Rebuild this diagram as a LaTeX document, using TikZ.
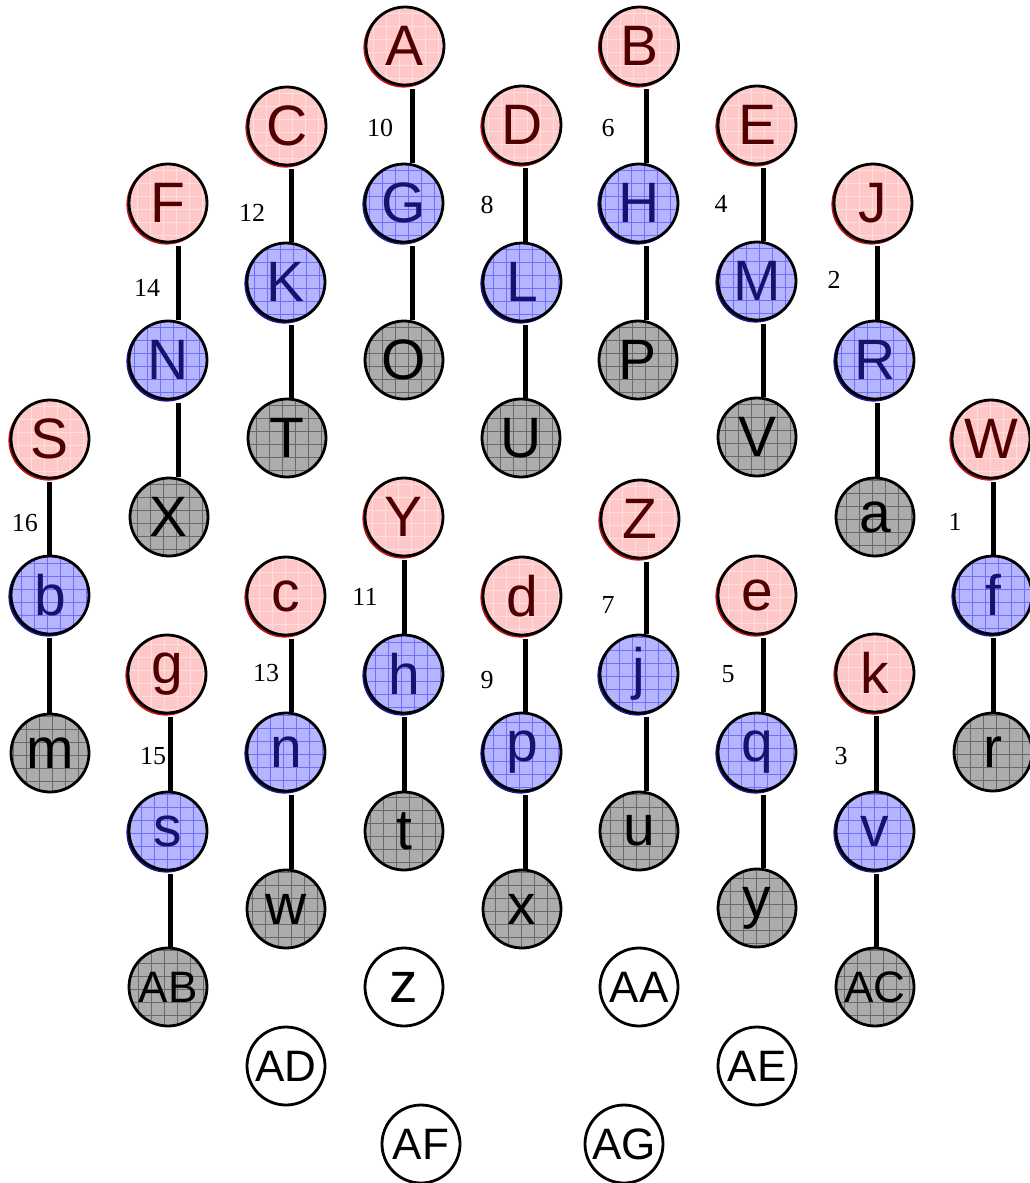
\documentclass[tikz,border=0pt]{standalone}
\usepackage{fontspec}
\setmainfont{Liberation Serif}
\newfontfamily\lblfont{Liberation Sans}
\definecolor{cRedFill}{RGB}{255,200,200}
\definecolor{cRedText}{RGB}{80,0,0}
\definecolor{cRedRing}{RGB}{200,20,20}
\definecolor{cRedGrid}{RGB}{255,222,222}
\definecolor{cBlueFill}{RGB}{180,180,255}
\definecolor{cBlueText}{RGB}{20,20,110}
\definecolor{cBlueRing}{RGB}{25,25,150}
\definecolor{cBlueGrid}{RGB}{110,110,255}
\definecolor{cGreyFill}{RGB}{172,172,172}
\definecolor{cGreyGrid}{RGB}{105,105,105}
\tikzset{
  vnode/.style={circle, draw=black, line width=2.8pt, inner sep=0pt, minimum size=78pt,
    font=\lblfont\fontsize{57}{57}\selectfont},
  two/.style={font=\lblfont\fontsize{44}{44}\selectfont},
  rednode/.style={vnode, fill=cRedFill, text=cRedText,
    path picture={\draw[cRedGrid, line width=0.5pt] (path picture bounding box.south west) grid[step=13pt] (path picture bounding box.north east);}},
  bluenode/.style={vnode, fill=cBlueFill, text=cBlueText,
    path picture={\draw[cBlueGrid, line width=0.4pt] (path picture bounding box.south west) grid[step=13pt] (path picture bounding box.north east);}},
  greynode/.style={vnode, fill=cGreyFill, text=black,
    path picture={\draw[cGreyGrid, line width=0.4pt] (path picture bounding box.south west) grid[step=13pt] (path picture bounding box.north east);}},
  whitenode/.style={vnode, fill=white, text=black},
  redring/.style={draw=cRedRing, line width=2.2pt},
  bluering/.style={draw=cBlueRing, line width=2.2pt},
  greyring/.style={draw=none},
  whitering/.style={draw=none},
  edge/.style={line width=5pt, draw=black},
  num/.style={font=\fontsize{26}{26}\selectfont, inner sep=0pt, text=black}
}
\newcommand\vn[6][]{%
  \draw[#2ring] (#4,#5) ++(-1.5,1.5) circle[radius=39pt];
  \node[#2node,#1] (n#3) at (#4,#5) {#6};}
\newcommand\ed[4]{%
  \draw[edge] ([xshift=#3pt,yshift=-3pt]n#1.south) -- ([xshift=#4pt]n#2.north);}
\begin{document}
\begin{tikzpicture}[x=1pt,y=-1pt]
\useasboundingbox[fill=white] (0,0) rectangle (1029,1183);
% row 1
\vn{red}{A}{405}{46}{A}
\vn{red}{B}{639.5}{46}{B}
% row 2
\vn{red}{C}{287}{126}{C}
\vn{red}{D}{522}{125}{D}
\vn{red}{E}{757}{125}{E}
% row 3
\vn{red}{F}{168}{203}{F}
\vn{blue}{G}{404}{203}{G}
\vn{blue}{H}{639}{203}{H}
\vn{red}{J}{873}{203}{J}
% row 4
\vn{blue}{K}{286}{282}{K}
\vn{blue}{L}{522}{282}{L}
\vn{blue}{M}{757}{281}{M}
% row 5
\vn{blue}{N}{168}{360}{N}
\vn{grey}{O}{404}{360}{O}
\vn{grey}{P}{638}{360}{P}
\vn{blue}{R}{875}{360}{R}
% row 6
\vn{red}{S}{50}{439}{S}
\vn{grey}{T}{287}{438}{T}
\vn{grey}{U}{521}{438}{U}
\vn{grey}{V}{757}{437}{V}
\vn{red}{W}{991}{439}{W}
% row 7
\vn{grey}{X}{169}{517}{X}
\vn{red}{Y}{404}{517}{Y}
\vn{red}{Z}{640}{519}{Z}
\vn{grey}{a}{875}{517}{a}
% row 8
\vn{blue}{b}{50}{595}{b}
\vn{red}{c}{286}{596}{c}
\vn{red}{d}{522}{596}{d}
\vn{red}{e}{757}{595}{e}
\vn{blue}{f}{993}{595}{f}
% row 9
\vn{red}{g}{167}{674}{g}
\vn{blue}{h}{404}{674}{h}
\vn{blue}{j}{639}{674}{j}
\vn{red}{k}{875}{673}{k}
% row 10
\vn{grey}{m}{50}{753}{m}
\vn{blue}{n}{286}{752}{n}
\vn{blue}{p}{522}{752}{p}
\vn{blue}{q}{757}{752}{q}
\vn{grey}{r}{993}{752}{r}
% row 11
\vn{blue}{s}{168}{831}{s}
\vn{grey}{t}{404}{831}{t}
\vn{grey}{u}{639}{831}{u}
\vn{blue}{v}{875}{831}{v}
% row 12
\vn{grey}{w}{286}{909}{w}
\vn{grey}{x}{522}{909}{x}
\vn{grey}{y}{757}{908}{y}
% row 13
\vn[two]{grey}{AB}{168}{987}{AB}
\vn{white}{z}{404}{987}{z}
\vn[two]{white}{AA}{639}{987}{AA}
\vn[two]{grey}{AC}{875}{987}{AC}
% row 14
\vn[two]{white}{AD}{286}{1066}{AD}
\vn[two]{white}{AE}{757}{1066}{AE}
% row 15
\vn[two]{white}{AF}{421}{1144}{AF}
\vn[two]{white}{AG}{624}{1144}{AG}
% edges
\ed{A}{G}{7}{8}
\ed{G}{O}{8}{8}
\ed{C}{K}{4}{5}
\ed{K}{T}{5}{4}
\ed{D}{L}{3}{3}
\ed{L}{U}{3}{4}
\ed{B}{H}{6.5}{7}
\ed{H}{P}{7}{8}
\ed{E}{M}{6}{6}
\ed{M}{V}{6}{6}
\ed{F}{N}{10}{10}
\ed{N}{X}{10}{9}
\ed{J}{R}{4}{2}
\ed{R}{a}{2}{2}
\ed{S}{b}{-1}{-1}
\ed{b}{m}{-1}{-1}
\ed{W}{f}{2}{0}
\ed{f}{r}{0}{0}
\ed{Y}{h}{0}{0}
\ed{h}{t}{0}{0}
\ed{c}{n}{5}{5}
\ed{n}{w}{5}{5}
\ed{d}{p}{3}{3}
\ed{p}{x}{3}{3}
\ed{Z}{j}{6}{7}
\ed{j}{u}{7}{7}
\ed{e}{q}{6}{6}
\ed{q}{y}{6}{6}
\ed{g}{s}{3}{2}
\ed{s}{AB}{2}{2}
\ed{k}{v}{1}{1}
\ed{v}{AC}{1}{1}
% numbers
\node[num] (l1) at (955,522) {1};
\node[num] (l2) at (834,280) {2};
\node[num] (l3) at (841,756) {3};
\node[num] (l4) at (721,204) {4};
\node[num] (l5) at (728,674) {5};
\node[num] (l6) at (608,128) {6};
\node[num] (l7) at (608,605) {7};
\node[num] (l8) at (487,205) {8};
\node[num] (l9) at (487,680) {9};
\node[num] (l10) at (380,128) {10};
\node[num] (l11) at (365,597) {11};
\node[num] (l12) at (252,213) {12};
\node[num] (l13) at (266,673) {13};
\node[num] (l14) at (147,288) {14};
\node[num] (l15) at (153,756) {15};
\node[num] (l16) at (25,523) {16};
\end{tikzpicture}
\end{document}
